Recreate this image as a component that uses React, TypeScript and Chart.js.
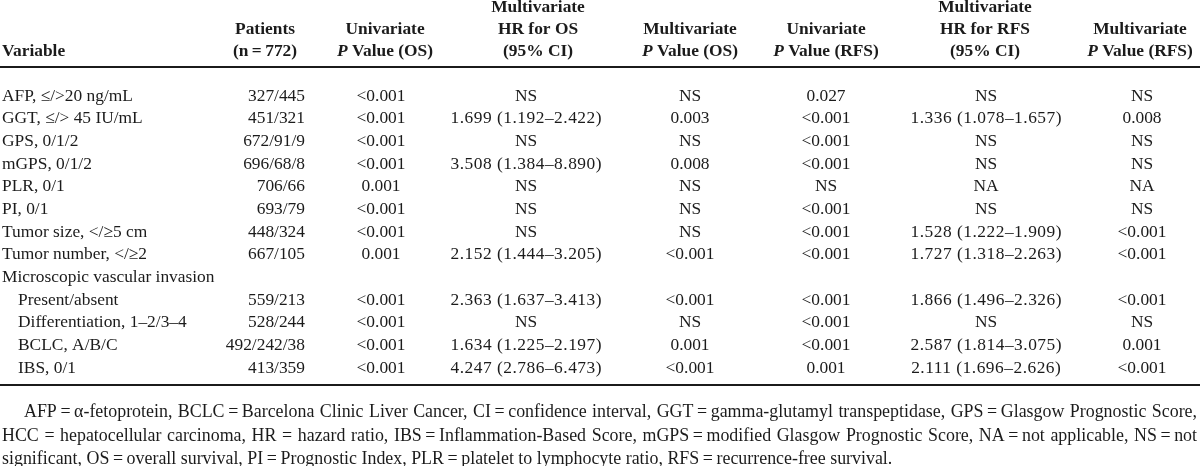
import React, { useEffect, useRef } from "react";
import { Chart, registerables } from "chart.js";

Chart.register(...registerables);

// ---------- DATA ----------
const variables = [
  "AFP, \u2264/>20 ng/mL",
  "GGT, \u2264/> 45 IU/mL",
  "GPS, 0/1/2",
  "mGPS, 0/1/2",
  "PLR, 0/1",
  "PI, 0/1",
  "Tumor size, </\u22655 cm",
  "Tumor number, </\u22652",
  "Microscopic vascular invasion",
  "Present/absent",
  "Differentiation, 1\u20132/3\u20134",
  "BCLC, A/B/C",
  "IBS, 0/1",
];
const indented = [false, false, false, false, false, false, false, false, false, true, true, true, true];
const patients = ["327/445", "451/321", "672/91/9", "696/68/8", "706/66", "693/79", "448/324", "667/105", "", "559/213", "528/244", "492/242/38", "413/359"];
const uniPOS = ["<0.001", "<0.001", "<0.001", "<0.001", "0.001", "<0.001", "<0.001", "0.001", "", "<0.001", "<0.001", "<0.001", "<0.001"];
const hrOS = ["NS", "1.699 (1.192\u20132.422)", "NS", "3.508 (1.384\u20138.890)", "NS", "NS", "NS", "2.152 (1.444\u20133.205)", "", "2.363 (1.637\u20133.413)", "NS", "1.634 (1.225\u20132.197)", "4.247 (2.786\u20136.473)"];
const multiPOS = ["NS", "0.003", "NS", "0.008", "NS", "NS", "NS", "<0.001", "", "<0.001", "NS", "0.001", "<0.001"];
const uniPRFS = ["0.027", "<0.001", "<0.001", "<0.001", "NS", "<0.001", "<0.001", "<0.001", "", "<0.001", "<0.001", "<0.001", "0.001"];
const hrRFS = ["NS", "1.336 (1.078\u20131.657)", "NS", "NS", "NA", "NS", "1.528 (1.222\u20131.909)", "1.727 (1.318\u20132.263)", "", "1.866 (1.496\u20132.326)", "NS", "2.587 (1.814\u20133.075)", "2.111 (1.696\u20132.626)"];
const multiPRFS = ["NS", "0.008", "NS", "NS", "NA", "NS", "<0.001", "<0.001", "", "<0.001", "NS", "0.001", "<0.001"];

// header: each column has up to 3 lines; a line is a list of [text, italic?]
const headVariable = [[], [], [["Variable", false]]];
const headPatients = [[], [["Patients", false]], [["(n\u2009=\u2009772)", false]]];
const headUniOS = [[], [["Univariate", false]], [["P", true], [" Value (OS)", false]]];
const headHrOS = [[["Multivariate", false]], [["HR for OS", false]], [["(95% CI)", false]]];
const headMultiOS = [[], [["Multivariate", false]], [["P", true], [" Value (OS)", false]]];
const headUniRFS = [[], [["Univariate", false]], [["P", true], [" Value (RFS)", false]]];
const headHrRFS = [[["Multivariate", false]], [["HR for RFS", false]], [["(95% CI)", false]]];
const headMultiRFS = [[], [["Multivariate", false]], [["P", true], [" Value (RFS)", false]]];

const T = "\u2009=\u2009";
const footnoteLines = [
  ["AFP" + T + "\u03b1-fetoprotein,", "BCLC" + T + "Barcelona", "Clinic", "Liver", "Cancer,", "CI" + T + "confidence", "interval,", "GGT" + T + "gamma-glutamyl", "transpeptidase,", "GPS" + T + "Glasgow", "Prognostic", "Score,"],
  ["HCC", "=", "hepatocellular", "carcinoma,", "HR", "=", "hazard", "ratio,", "IBS" + T + "Inflammation-Based", "Score,", "mGPS" + T + "modified", "Glasgow", "Prognostic", "Score,", "NA" + T + "not", "applicable,", "NS" + T + "not"],
  ["significant,", "OS" + T + "overall", "survival,", "PI" + T + "Prognostic", "Index,", "PLR" + T + "platelet", "to", "lymphocyte", "ratio,", "RFS" + T + "recurrence-free", "survival."],
];
const footnoteJustified = [true, true, false];

// ---------- LAYOUT / STYLE ----------
const W = 1200;
const H = 466;
const FAMILY = "'Liberation Serif', 'Times New Roman', serif";
const FS = 17.4;
const FN = 17.9;
const INK = "#1b1b1b";
const HEAD_Y = [8, 30, 52];
const RULE_TOP = 67;
const ROW0 = 96;
const ROW_H = 22.67;
const RULE_BOTTOM = 385;
const FOOT_Y = [412, 436, 459];
const FOOT_LEFT = 2;
const FOOT_INDENT = 24;
const FOOT_RIGHT = 1197;

type Col = { values: string[]; head: any[]; x: number; align: CanvasTextAlign; headX: number; headAlign: CanvasTextAlign; spacing: number };
const columns: Col[] = [
  { values: variables, head: headVariable, x: 2, align: "left", headX: 2, headAlign: "left", spacing: 0 },
  { values: patients, head: headPatients, x: 305, align: "right", headX: 265, headAlign: "center", spacing: 0 },
  { values: uniPOS, head: headUniOS, x: 381, align: "center", headX: 385, headAlign: "center", spacing: 0 },
  { values: hrOS, head: headHrOS, x: 526, align: "center", headX: 538, headAlign: "center", spacing: 0.5 },
  { values: multiPOS, head: headMultiOS, x: 690, align: "center", headX: 690, headAlign: "center", spacing: 0 },
  { values: uniPRFS, head: headUniRFS, x: 826, align: "center", headX: 826, headAlign: "center", spacing: 0 },
  { values: hrRFS, head: headHrRFS, x: 986, align: "center", headX: 985, headAlign: "center", spacing: 0.5 },
  { values: multiPRFS, head: headMultiRFS, x: 1142, align: "center", headX: 1140, headAlign: "center", spacing: 0 },
];

function drawRuns(ctx: CanvasRenderingContext2D, runs: [string, boolean][], x: number, y: number, align: CanvasTextAlign) {
  const fonts = runs.map(([, it]) => `${it ? "italic " : ""}bold ${FS}px ${FAMILY}`);
  const widths = runs.map(([t], i) => {
    ctx.font = fonts[i];
    return ctx.measureText(t).width;
  });
  const total = widths.reduce((a, b) => a + b, 0);
  let sx = align === "left" ? x : align === "right" ? x - total : x - total / 2;
  runs.forEach(([t], i) => {
    ctx.font = fonts[i];
    ctx.textAlign = "left";
    ctx.fillText(t, sx, y);
    sx += widths[i];
  });
}

const tablePlugin = {
  id: "tableText",
  afterDraw(chart: any) {
    const ctx: CanvasRenderingContext2D = chart.ctx;
    const xs = chart.scales.x;
    const ys = chart.scales.y;
    const px = (v: number) => xs.getPixelForValue(v);
    const py = (v: number) => ys.getPixelForValue(v);
    ctx.save();
    ctx.fillStyle = INK;
    ctx.strokeStyle = INK;
    ctx.textBaseline = "middle";

    // header
    columns.forEach((c) => {
      c.head.forEach((line: [string, boolean][], li: number) => {
        if (line.length) drawRuns(ctx, line, px(c.headX), py(HEAD_Y[li]), c.headAlign);
      });
    });

    // rules
    ctx.lineWidth = 2;
    [RULE_TOP, RULE_BOTTOM].forEach((r) => {
      ctx.beginPath();
      ctx.moveTo(px(0), py(r));
      ctx.lineTo(px(W), py(r));
      ctx.stroke();
    });

    // body
    ctx.font = `${FS}px ${FAMILY}`;
    ctx.textAlign = "left";
    columns.forEach((c, ci) => {
      c.values.forEach((v, ri) => {
        if (!v) return;
        const sp = v.length > 3 ? c.spacing : 0;
        (ctx as any).letterSpacing = `${sp}px`;
        const x = ci === 0 && indented[ri] ? c.x + 16 : c.x;
        const w = ctx.measureText(v).width - sp;
        const sx = c.align === "left" ? x : c.align === "right" ? x - w : x - w / 2;
        ctx.fillText(v, px(sx), py(ROW0 + ri * ROW_H));
      });
    });
    (ctx as any).letterSpacing = "0px";

    // footnote
    ctx.font = `${FN}px ${FAMILY}`;
    ctx.textAlign = "left";
    footnoteLines.forEach((words, li) => {
      const left = li === 0 ? FOOT_INDENT : FOOT_LEFT;
      const widths = words.map((w) => ctx.measureText(w).width);
      const sum = widths.reduce((a, b) => a + b, 0);
      const gap = footnoteJustified[li] ? (FOOT_RIGHT - left - sum) / (words.length - 1) : ctx.measureText(" ").width;
      let x = left;
      words.forEach((w, i) => {
        ctx.fillText(w, px(x), py(FOOT_Y[li]));
        x += widths[i] + gap;
      });
    });
    ctx.restore();
  },
};

export default function App() {
  const ref = useRef<HTMLCanvasElement | null>(null);
  useEffect(() => {
    if (!ref.current) return;
    const chart = new Chart(ref.current, {
      type: "scatter",
      data: { datasets: [{ data: [], pointRadius: 0 }] },
      options: {
        animation: false,
        responsive: false,
        devicePixelRatio: 1,
        layout: { padding: 0 },
        plugins: { legend: { display: false }, tooltip: { enabled: false } },
        scales: {
          x: { type: "linear", min: 0, max: W, display: false },
          y: { type: "linear", min: 0, max: H, reverse: true, display: false },
        },
      },
      plugins: [tablePlugin],
    });
    return () => chart.destroy();
  }, []);
  return (
    <div style={{ position: "fixed", left: 0, top: 0, width: W, height: H, background: "#fff" }}>
      <canvas ref={ref} width={W} height={H} style={{ width: W, height: H, display: "block" }} />
    </div>
  );
}
